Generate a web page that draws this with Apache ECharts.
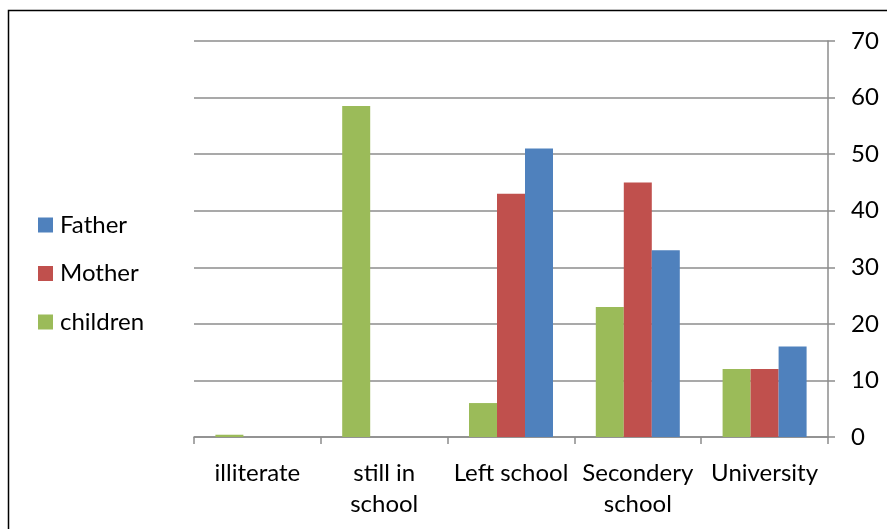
<!DOCTYPE html>
<html>
<head>
<meta charset="utf-8">
<script src="https://cdn.jsdelivr.net/npm/echarts@6/dist/echarts.min.js"></script>
<style>
  html, body { margin: 0; padding: 0; background: #fff; }
  #chart { width: 887px; height: 529px; }
</style>
</head>
<body>
<div id="chart"></div>
<script>
// Education level by family member (percent)
const categories = ['illiterate', 'still in\nschool', 'Left school', 'Secondery\nschool', 'University'];
const children = [0.4, 58.5, 6, 23, 12];
const mother = [0, 0, 43, 45, 12];
const father = [0, 0, 51, 33, 16];
const yTicks = { min: 0, max: 70, interval: 10 };

const FONT = 'Lato';
const FONT_SIZE = 24;
const GRID_GRAY = '#8c8c8c';

const chart = echarts.init(document.getElementById('chart'));
chart.setOption({
  animation: false,
  backgroundColor: '#fff',
  textStyle: { fontFamily: FONT, color: '#000' },
  graphic: [{
    type: 'rect',
    shape: { x: 8.5, y: 10.5, width: 900, height: 600 },
    style: { fill: 'none', stroke: '#000', lineWidth: 1.5 },
    silent: true
  }],
  legend: {
    orient: 'vertical',
    left: 38,
    top: 213,
    padding: 0,
    itemWidth: 15,
    itemHeight: 15,
    itemGap: 24.5,
    icon: 'rect',
    data: ['Father', 'Mother', 'children'],
    textStyle: { fontFamily: FONT, fontSize: FONT_SIZE, color: '#000', lineHeight: 24, padding: [0, 0, 0, 2] }
  },
  grid: { left: 194, right: 59, top: 41, bottom: 92, containLabel: false },
  xAxis: {
    type: 'category',
    data: categories,
    axisLine: { show: true, lineStyle: { color: GRID_GRAY, width: 1.5 } },
    axisTick: { show: true, length: 7, lineStyle: { color: GRID_GRAY, width: 1.5 } },
    axisLabel: { fontFamily: FONT, fontSize: FONT_SIZE, color: '#000', margin: 21, lineHeight: 31, interval: 0 }
  },
  yAxis: {
    type: 'value',
    position: 'right',
    min: yTicks.min,
    max: yTicks.max,
    interval: yTicks.interval,
    axisLine: { show: true, lineStyle: { color: GRID_GRAY, width: 1.5 } },
    axisTick: { show: true, length: 7, lineStyle: { color: GRID_GRAY, width: 1.5 } },
    axisLabel: { fontFamily: FONT, fontSize: FONT_SIZE, color: '#000', margin: 23 },
    splitLine: { show: true, lineStyle: { color: GRID_GRAY, width: 1.5 } }
  },
  series: [
    { name: 'children', type: 'bar', data: children, barWidth: 28, barGap: '0%', itemStyle: { color: '#9BBB59' } },
    { name: 'Mother', type: 'bar', data: mother, barWidth: 28, barGap: '0%', itemStyle: { color: '#C0504D' } },
    { name: 'Father', type: 'bar', data: father, barWidth: 28, barGap: '0%', itemStyle: { color: '#4F81BD' } }
  ]
});
</script>
</body>
</html>
